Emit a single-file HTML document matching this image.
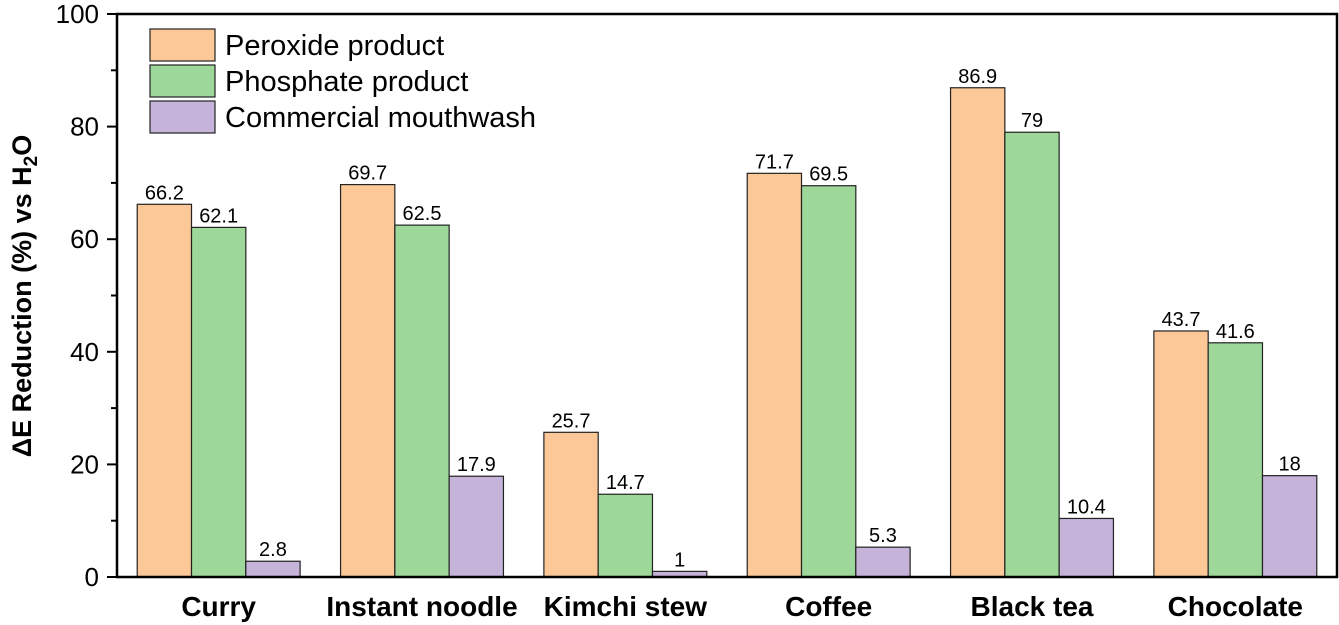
<!DOCTYPE html>
<html><head><meta charset="utf-8">
<style>
html,body{margin:0;padding:0;background:#fff;}
svg{display:block;font-family:"Liberation Sans",Arial,sans-serif;}
</style></head>
<body>
<svg id="chart" width="1339" height="625" viewBox="0 0 1339 625">
  <g id="bars"></g>
  <g id="labels"></g>
  <g id="axes"></g>
  <text transform="translate(31,296) rotate(-90)" text-anchor="middle" font-size="27" font-weight="bold">ΔE Reduction (%) vs H<tspan font-size="19" dy="6">2</tspan><tspan dy="-6">O</tspan></text>
  <g>
    <rect x="150" y="29" width="65" height="32" fill="#fdc898" stroke="#222" stroke-width="1.2"/>
    <text x="225" y="55" font-size="29">Peroxide product</text>
    <rect x="150" y="65" width="65" height="32" fill="#9dd89a" stroke="#222" stroke-width="1.2"/>
    <text x="225" y="91" font-size="29">Phosphate product</text>
    <rect x="150" y="101" width="65" height="32" fill="#c5b3da" stroke="#222" stroke-width="1.2"/>
    <text x="225" y="127" font-size="29">Commercial mouthwash</text>
  </g>
</svg>
<script>
const categories = ["Curry","Instant noodle","Kimchi stew","Coffee","Black tea","Chocolate"];
const peroxide = [66.2,69.7,25.7,71.7,86.9,43.7];
const phosphate = [62.1,62.5,14.7,69.5,79,41.6];
const mouthwash = [2.8,17.9,1,5.3,10.4,18];
const yTicks = [0,20,40,60,80,100];

const NS="http://www.w3.org/2000/svg";
const L=117,R=1337,T=14,B=577;
const slot=(R-L)/categories.length, bw=54.3;
function y(v){return B-(v/100)*(B-T);}
function mk(t,a,p){const e=document.createElementNS(NS,t);for(const k in a)e.setAttribute(k,a[k]);p.appendChild(e);return e;}
const gb=document.getElementById('bars'),gl=document.getElementById('labels'),ga=document.getElementById('axes');
const series=[{v:peroxide,c:"#fdc898",n:"peroxide"},{v:phosphate,c:"#9dd89a",n:"phosphate"},{v:mouthwash,c:"#c5b3da",n:"mouthwash"}];
categories.forEach((cat,i)=>{
  const cx=L+slot*(i+0.5);
  series.forEach((s,j)=>{
    const x=cx-1.5*bw+j*bw, v=s.v[i];
    const r=mk('rect',{x:x,y:y(v),width:bw,height:B-y(v),fill:s.c,stroke:"#222","stroke-width":1.2},gb);
    
    
    const t=mk('text',{x:x+bw/2,y:y(v)-5,"text-anchor":"middle","font-size":20},gl);
    t.textContent=String(v);
    
    
  });
  const ct=mk('text',{x:cx,y:616,"text-anchor":"middle","font-size":28,"font-weight":"bold"},ga);
  ct.textContent=cat;
  
  
});
const fr=mk('rect',{x:L,y:T,width:R-L,height:B-T,fill:"none",stroke:"#000","stroke-width":2.5},ga);


for(let v=0;v<=100;v+=10){
  const major=v%20===0;
  const tk=mk('line',{x1:L,x2:L-(major?10:6),y1:y(v),y2:y(v),stroke:"#000","stroke-width":2},ga);
  
  
}
yTicks.forEach(v=>{
  const t=mk('text',{x:99,y:y(v)+9,"text-anchor":"end","font-size":26},ga);
  t.textContent=String(v);
  
  
});
</script>
</body></html>
